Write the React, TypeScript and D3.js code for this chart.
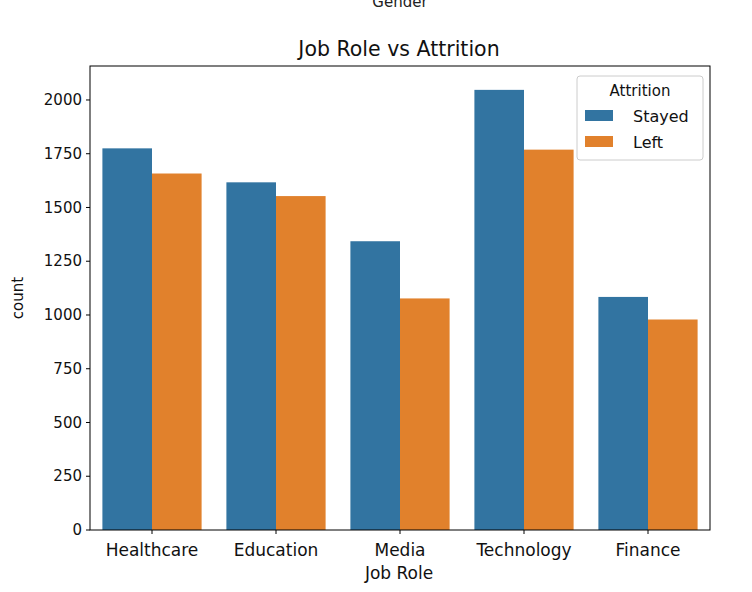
import * as d3 from 'd3';

const roles = ['Healthcare', 'Education', 'Media', 'Technology', 'Finance'];
const series = ['Stayed', 'Left'];
const stayed = [1775, 1617, 1343, 2047, 1084];
const left = [1658, 1553, 1077, 1769, 979];
const yTicks = [0, 250, 500, 750, 1000, 1250, 1500, 1750, 2000];
const colors = ['#3274a1', '#e1812c'];

export default function App() {
  const W = 752, H = 592;
  const m = { left: 90, right: 710, top: 66, bottom: 530 };
  const x0 = d3.scaleBand().domain(roles).range([m.left, m.right]);
  const inner = d3.scaleBand().domain(series).range([0, x0.bandwidth() * 0.8]);
  const y = d3.scaleLinear().domain([0, 2158]).range([m.bottom, m.top]);
  const values = [stayed, left];
  const font = 'DejaVu Sans, sans-serif';
  return (
    <svg width={W} height={H} style={{ position: 'fixed', left: 0, top: 0, background: '#fff' }} fontFamily={font}>
      <text x={400} y={7} textAnchor="middle" fontSize={15} fill="#222">Gender</text>
      <text x={399} y={56} textAnchor="middle" fontSize={20.5} fill="#111">Job Role vs Attrition</text>
      {roles.map((r, i) =>
        series.map((s, j) => (
          <rect key={r + s} x={x0(r)! + x0.bandwidth() * 0.1 + inner(s)!} y={y(values[j][i])}
            width={inner.bandwidth()} height={y(0) - y(values[j][i])} fill={colors[j]} />
        ))
      )}
      <rect x={m.left} y={m.top} width={m.right - m.left} height={m.bottom - m.top} fill="none" stroke="#000" strokeWidth={1} />
      {yTicks.map(t => (
        <g key={t}>
          <line x1={m.left - 4} x2={m.left} y1={y(t)} y2={y(t)} stroke="#000" />
          <text x={m.left - 8} y={y(t)} dy="0.35em" textAnchor="end" fontSize={15} fill="#111">{t}</text>
        </g>
      ))}
      {roles.map(r => {
        const cx = x0(r)! + x0.bandwidth() / 2;
        return (
          <g key={r}>
            <line x1={cx} x2={cx} y1={m.bottom} y2={m.bottom + 4} stroke="#000" />
            <text x={cx} y={m.bottom + 20} dy="0.35em" textAnchor="middle" fontSize={17} fill="#111">{r}</text>
          </g>
        );
      })}
      <text x={399} y={573} dy="0.35em" textAnchor="middle" fontSize={17} fill="#111">Job Role</text>
      <text transform={`translate(18,${(m.top + m.bottom) / 2}) rotate(-90)`} textAnchor="middle" dy="0.35em" fontSize={15} fill="#111">count</text>
      <g>
        <rect x={577} y={76} width={126} height={84} rx={3} fill="#fff" fillOpacity={0.8} stroke="#ccc" />
        <text x={640} y={91} dy="0.35em" textAnchor="middle" fontSize={15} fill="#111">Attrition</text>
        {series.map((s, j) => (
          <g key={s}>
            <rect x={585} y={110 + j * 26} width={28} height={11} fill={colors[j]} />
            <text x={633} y={116 + j * 26} dy="0.35em" fontSize={16} fill="#111">{s}</text>
          </g>
        ))}
      </g>
    </svg>
  );
}
